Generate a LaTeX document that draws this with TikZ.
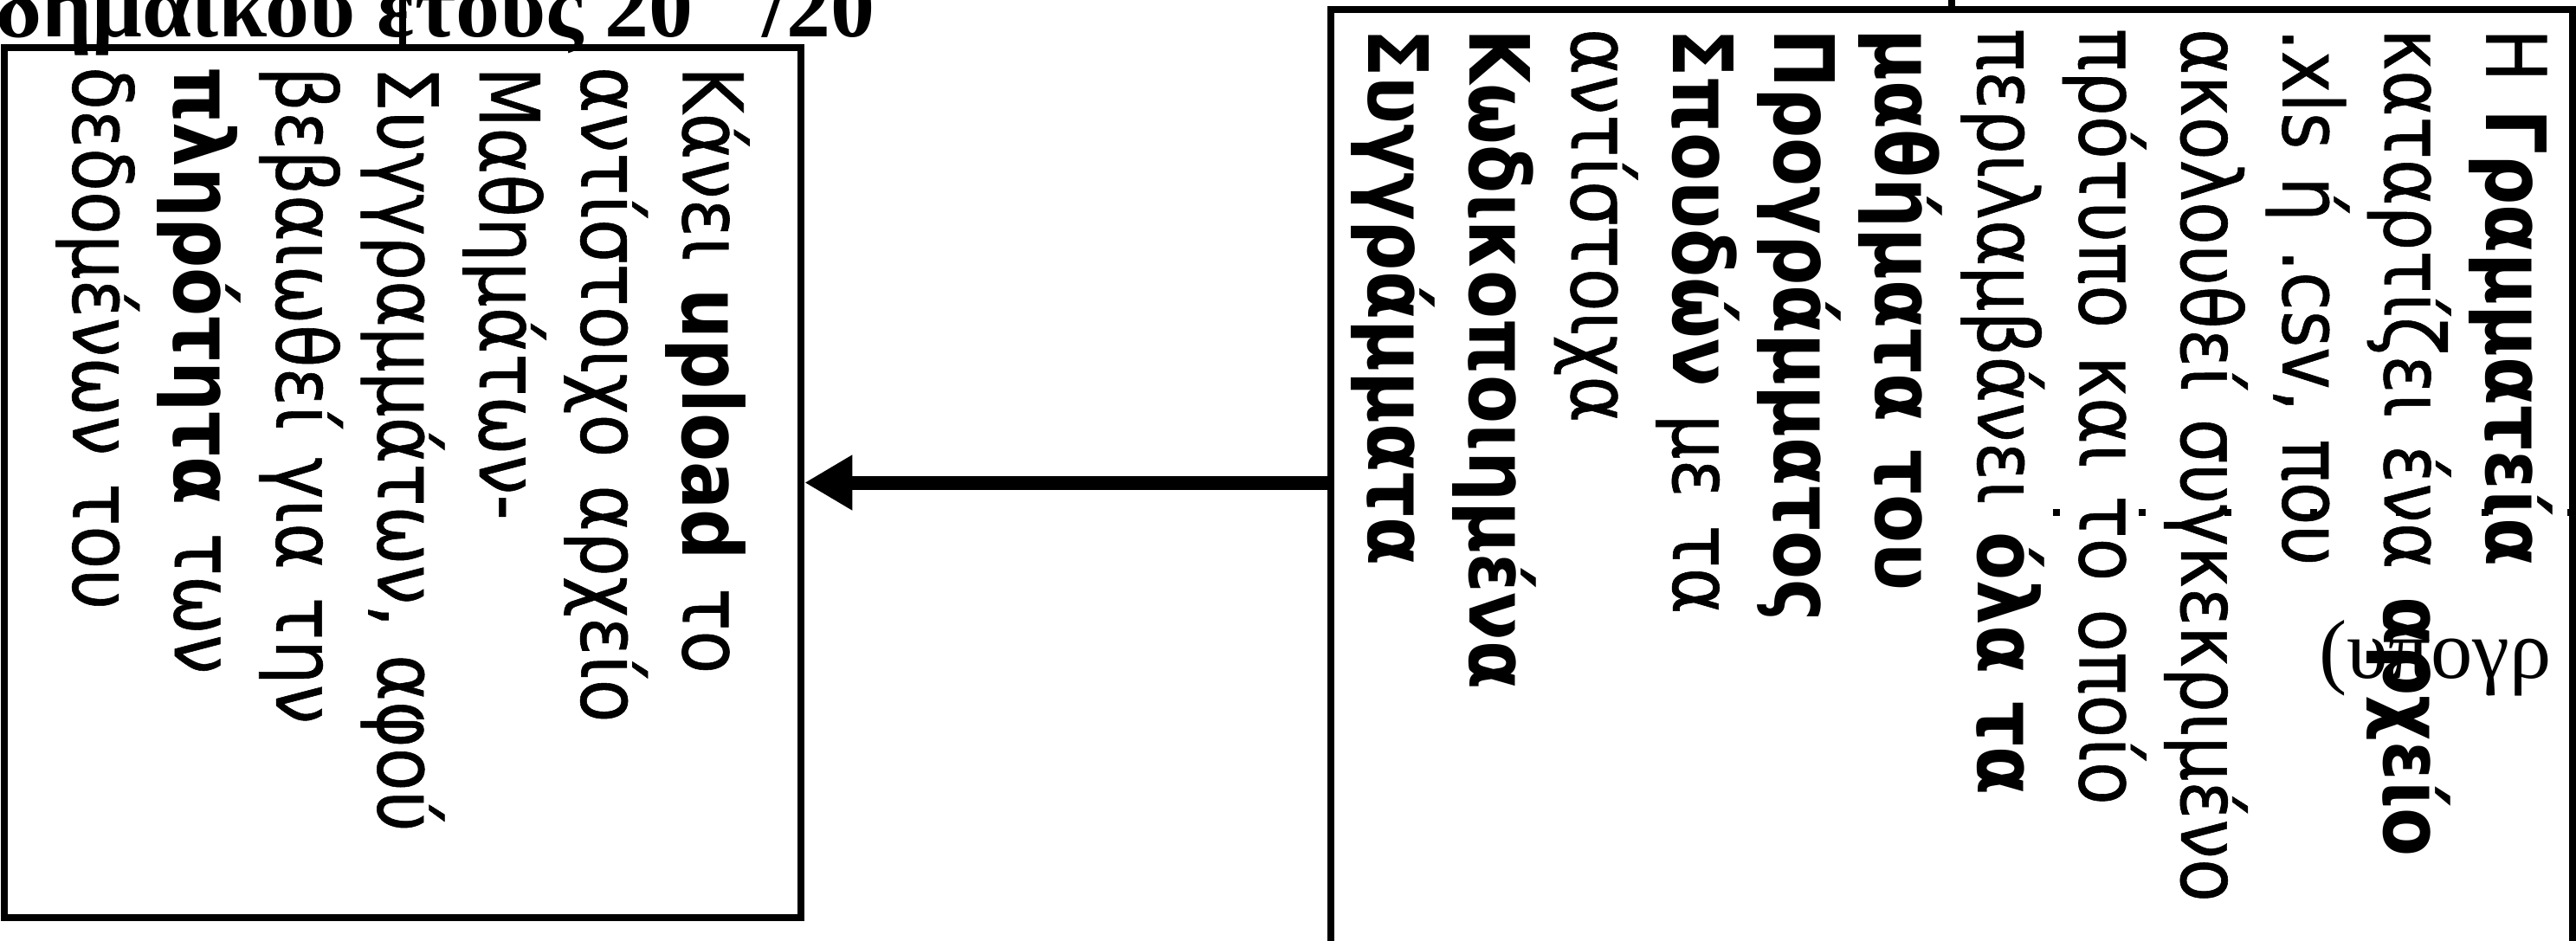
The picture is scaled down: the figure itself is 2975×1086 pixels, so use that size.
\documentclass[tikz,border=0pt]{standalone}
\usepackage{fontspec}
\setmainfont{Liberation Serif}
\newfontfamily\boxfont[FakeStretch=0.85, UprightFeatures={FakeBold=0.6}]{DejaVu Sans}
\usetikzlibrary{calc,arrows.meta}
\usetikzlibrary{positioning}

\begin{document}
\begin{tikzpicture}[x=0.1mm, y=0.1mm,
  procbox/.style={rectangle, draw=black, line width=0.8mm, rotate=-90,
    inner xsep=2.2mm, inner ysep=0pt, align=left,
    font=\boxfont\fontsize{27.3pt}{33.4pt}\selectfont},
  link/.style={draw=black, line width=0.8mm},
  flow/.style={draw=black, line width=1.6mm, -{Triangle[length=5.5mm, width=6mm]}},
  dotrow/.style={draw=black, line width=0.8mm, dash pattern=on 0.8mm off 9.1mm},
  scrap/.style={inner sep=0pt, anchor=base west, font=\fontsize{27.5pt}{30pt}\selectfont}
]
\useasboundingbox (0,0) rectangle (2975,1086);

% ---- Boxes (text runs top to bottom) ----
\node[procbox, minimum width=100.5mm, minimum height=92.05mm, text width=96.1mm]
  (upl) at (465, 528.5)
  {Κάνει \textbf{upload} το\\
   αντίστοιχο αρχείο\\
   Μαθημάτων-\\
   Συγγραμμάτων, αφού\\
   βεβαιωθεί για την\\
   \textbf{πληρότητα} των\\
   δεδομένων του};
\node[procbox, minimum width=125mm, minimum height=143.4mm, text width=120.6mm]
  (stp) at (2254, 450)
  {Η \textbf{Γραμματεία}\\
   καταρτίζει ένα \textbf{αρχείο}\\
   .xls ή .csv, που\\
   ακολουθεί συγκεκριμένο\\
   πρότυπο και το οποίο\\
   περιλαμβάνει \textbf{όλα τα}\\
   \textbf{μαθήματα του}\\
   \textbf{Προγράμματος}\\
   \textbf{Σπουδών} με τα\\
   αντίστοιχα\\
   \textbf{Κωδικοποιημένα}\\
   \textbf{Συγγράμματα}};

% ---- Cut-off text from the page ----
\node[scrap, font=\bfseries\fontsize{29pt}{32pt}\selectfont] (hdr) at (-5, 1044)
  {δημαϊκού έτους 20\hspace{8mm}/20};
\node[scrap] (sig) at (2678, 303) {(υπογρ};

% ---- Connectors ----
\coordinate (upltop) at (465, 1200);
\coordinate (stptop) at (2254, 1200);
\draw[link] (upltop) -- (upl.west);
\draw[link] (stptop) -- (stp.west);
\draw[flow] (upl.north -| stp.south) -- (upl.north);

\coordinate (dotl) at (2371, 494);
\coordinate (dotr) at (2990, 494);
\draw[dotrow] (dotl) -- (dotr);
\end{tikzpicture}
\end{document}
